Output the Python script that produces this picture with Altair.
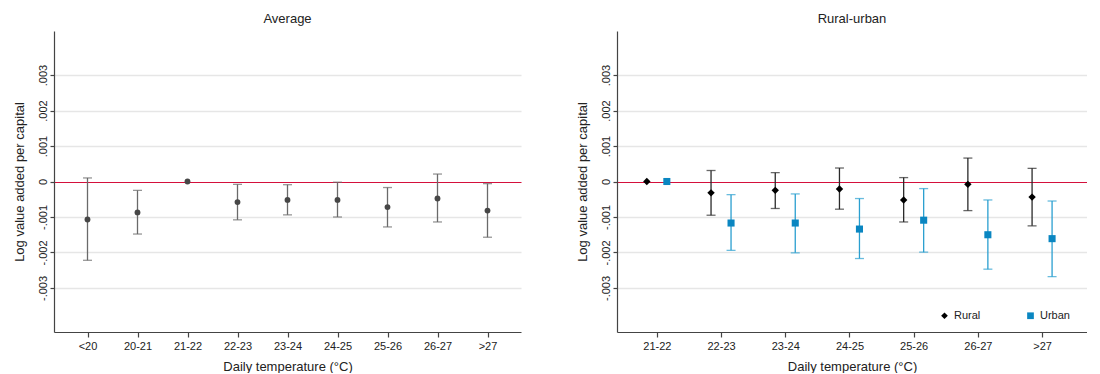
import altair as alt
import pandas as pd

FONT = "Liberation Sans"

# ---- Average panel data ----
avg_bins = ["<20", "20-21", "21-22", "22-23", "23-24", "24-25", "25-26", "26-27", ">27"]
avg_est = [-0.00107, -0.00087, 0.0, -0.00058, -0.00052, -0.00052, -0.00072, -0.00048, -0.00082]
avg_lo = [-0.00222, -0.00148, None, -0.00108, -0.00094, -0.00100, -0.00128, -0.00114, -0.00157]
avg_hi = [0.00010, -0.00025, None, -0.00008, -0.00009, -0.00002, -0.00017, 0.00021, -0.00006]

# ---- Rural-urban panel data ----
ru_bins = ["21-22", "22-23", "23-24", "24-25", "25-26", "26-27", ">27"]
rural_est = [0.0, -0.00032, -0.00025, -0.00021, -0.00052, -0.00008, -0.00044]
rural_lo = [None, -0.00095, -0.00076, -0.00078, -0.00114, -0.00082, -0.00125]
rural_hi = [None, 0.00031, 0.00025, 0.00038, 0.00011, 0.00066, 0.00037]
urban_est = [0.0, -0.00117, -0.00117, -0.00134, -0.00109, -0.00150, -0.00161]
urban_lo = [None, -0.00194, -0.00201, -0.00217, -0.00199, -0.00247, -0.00268]
urban_hi = [None, -0.00037, -0.00035, -0.00048, -0.00020, -0.00052, -0.00055]

y_ticks = [-0.003, -0.002, -0.001, 0.0, 0.001, 0.002, 0.003]
groups = ["Rural", "Urban"]

avg_df = pd.DataFrame({"bin": avg_bins, "est": avg_est, "lo": avg_lo, "hi": avg_hi})
ru_df = pd.concat([
    pd.DataFrame({"bin": ru_bins, "est": rural_est, "lo": rural_lo, "hi": rural_hi, "group": "Rural"}),
    pd.DataFrame({"bin": ru_bins, "est": urban_est, "lo": urban_lo, "hi": urban_hi, "group": "Urban"}),
])

Y_SCALE = alt.Scale(domain=[-0.00424, 0.00424], nice=False, zero=False)
Y_TITLE = "Log value added per capital"
LABEL_EXPR = ("datum.value == 0 ? '0' : (datum.value < 0 ? '-' : '') + '.00' + "
              "format(abs(datum.value) * 1000, '.0f')")


def y_axis():
    return alt.Axis(values=y_ticks, labelExpr=LABEL_EXPR, labelAngle=270,
                    labelAlign="center", labelBaseline="bottom", tickSize=4,
                    labelPadding=2, titlePadding=11, grid=True,
                    gridColor=alt.condition("datum.value === 0", alt.value("#d4103c"),
                                            alt.value("#e6e6e6")),
                    gridWidth=alt.condition("datum.value === 0", alt.value(1.2),
                                            alt.value(1.5)))


def y_enc(field):
    return alt.Y(field, scale=Y_SCALE, axis=y_axis(), title=Y_TITLE)


def x_enc(bins, padding, align=0.5):
    return alt.X("bin:O", sort=bins,
                 scale=alt.Scale(type="point", padding=padding, align=align),
                 axis=alt.Axis(labelAngle=0, grid=False, tickSize=5, labelPadding=3,
                               titlePadding=9),
                 title="Daily temperature (°C)")


def bars(df, bins, padding, align, color, dx=0):
    base = alt.Chart(df).transform_filter("isValid(datum.lo)")
    xe = x_enc(bins, padding, align)
    rule = base.mark_rule(color=color, strokeWidth=1.3, xOffset=dx).encode(
        x=xe, y=y_enc("lo:Q"), y2="hi:Q")
    cap_lo = base.mark_tick(color=color, thickness=1.3, size=9, xOffset=dx).encode(
        x=xe, y=y_enc("lo:Q"))
    cap_hi = base.mark_tick(color=color, thickness=1.3, size=9, xOffset=dx).encode(
        x=xe, y=y_enc("hi:Q"))
    return [rule, cap_lo, cap_hi]


# ---- left panel ----
AVG_PAD = 0.67
left = alt.layer(
    *bars(avg_df, avg_bins, AVG_PAD, 0.5, "#6a6a6a"),
    alt.Chart(avg_df).mark_point(filled=True, size=34, color="#474747", opacity=1).encode(
        x=x_enc(avg_bins, AVG_PAD), y=y_enc("est:Q")),
).properties(width=467, height=301, title="Average")

# ---- right panel ----
RU_PAD, RU_ALIGN = 0.66, 0.47
legend = alt.Legend(orient="none", legendX=322, legendY=279, direction="horizontal",
                    title=None, columnPadding=44, labelFontSize=11, symbolSize=45,
                    symbolStrokeWidth=0, padding=0, labelFont=FONT, labelColor="#222")
color_enc = alt.Color("group:N", scale=alt.Scale(domain=groups, range=["#000000", "#0a86c1"]),
                      legend=legend)
shape_enc = alt.Shape("group:N", scale=alt.Scale(domain=groups, range=["diamond", "square"]),
                      legend=legend)

rural_df = ru_df[ru_df.group == "Rural"]
urban_df = ru_df[ru_df.group == "Urban"]

right = alt.layer(
    *bars(rural_df, ru_bins, RU_PAD, RU_ALIGN, "#2a2a2a", dx=-10),
    *bars(urban_df, ru_bins, RU_PAD, RU_ALIGN, "#2a9fd0", dx=10),
    alt.Chart(rural_df).mark_point(filled=True, size=55, opacity=1, xOffset=-10).encode(
        x=x_enc(ru_bins, RU_PAD, RU_ALIGN), y=y_enc("est:Q"), color=color_enc, shape=shape_enc),
    alt.Chart(urban_df).mark_point(filled=True, size=50, opacity=1, xOffset=10).encode(
        x=x_enc(ru_bins, RU_PAD, RU_ALIGN), y=y_enc("est:Q"), color=color_enc, shape=shape_enc),
).properties(width=470, height=301, title="Rural-urban")

chart = alt.hconcat(left, right, spacing=55).resolve_legend(
    color="independent", shape="independent"
).properties(
    padding={"left": 5, "top": 5, "right": 0, "bottom": 0}
).configure_view(stroke=None).configure_axis(
    domainColor="#444444", domainWidth=1.2, tickColor="#444444", tickWidth=1.2,
    labelFont=FONT, titleFont=FONT,
    labelFontSize=11, titleFontSize=13, titleFontWeight="normal",
    labelColor="#222222", titleColor="#222222",
).configure_title(
    font=FONT, fontSize=13, fontWeight="normal", color="#222222", offset=5
).configure_legend(labelFont=FONT)

chart.save("out.html", embed_options={"renderer": "svg", "actions": False})
